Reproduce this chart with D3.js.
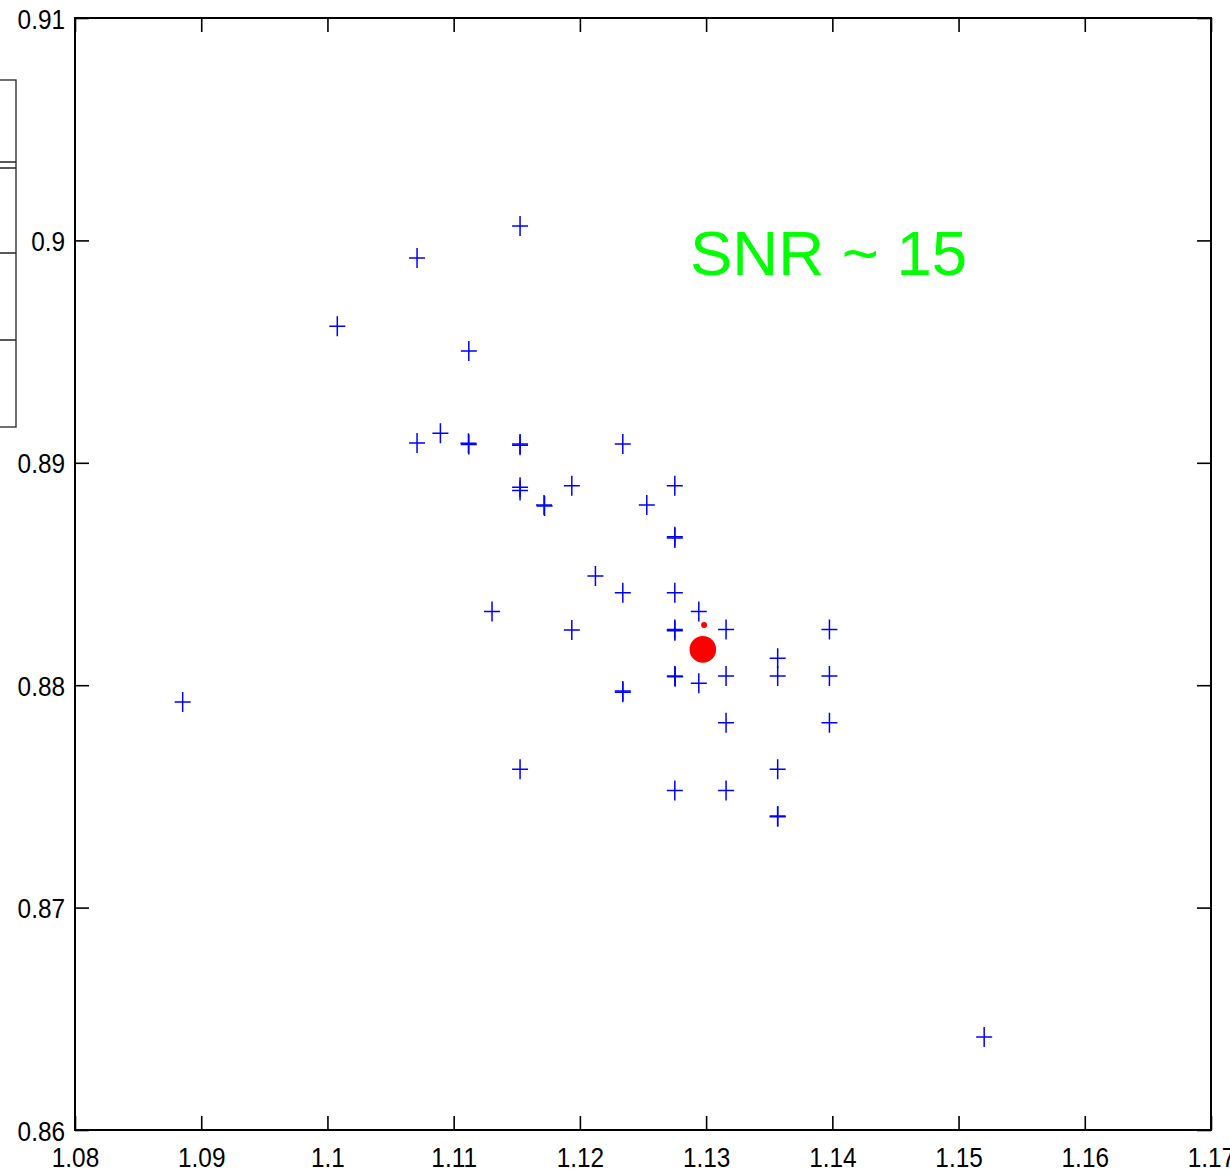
<!DOCTYPE html>
<html>
<head>
<meta charset="utf-8">
<script src="https://cdn.jsdelivr.net/npm/d3@7"></script>
<style>
  body { margin: 0; background: #fff; }
  svg { display: block; font-family: "Liberation Sans", Arial, sans-serif; }
</style>
</head>
<body>
<svg id="chart"></svg>
<script>
// tick values and labels
const xTicks = [1.08, 1.09, 1.10, 1.11, 1.12, 1.13, 1.14, 1.15, 1.16, 1.17]
const xTickLabels = ['1.08', '1.09', '1.1', '1.11', '1.12', '1.13', '1.14', '1.15', '1.16', '1.17']
const yTicks = [0.86, 0.87, 0.88, 0.89, 0.90, 0.91]
const yTickLabels = ['0.86', '0.87', '0.88', '0.89', '0.9', '0.91']

// blue "+" estimates (some nearly duplicated, which shows as bolder marks)
const estX = [
  1.08853, 1.10078, 1.10710, 1.10710, 1.10895, 1.11120, 1.11117, 1.11120,
  1.11526, 1.11526, 1.11526, 1.11526, 1.11526, 1.11716, 1.11720, 1.11936,
  1.11526, 1.11304, 1.11936, 1.12123, 1.12340, 1.12340, 1.12340, 1.12340,
  1.12530, 1.12752, 1.12752, 1.12752, 1.12752, 1.12752, 1.12752, 1.12752,
  1.12755, 1.12752, 1.12942, 1.12942, 1.13158, 1.13158, 1.13158, 1.13158,
  1.13567, 1.13567, 1.13567, 1.13567, 1.13567, 1.13977, 1.13977, 1.13977,
  1.15203
]
const estY = [
  0.87924, 0.89614, 0.89921, 0.89089, 0.89133, 0.89503, 0.89088, 0.89082,
  0.90065, 0.89085, 0.89079, 0.88890, 0.88875, 0.88810, 0.88806, 0.88897,
  0.87622, 0.88331, 0.88248, 0.88491, 0.89085, 0.88416, 0.87974, 0.87968,
  0.88810, 0.88897, 0.88668, 0.88662, 0.88416, 0.88250, 0.88245, 0.88041,
  0.88038, 0.87527, 0.88331, 0.88009, 0.88251, 0.88041, 0.87831, 0.87527,
  0.88121, 0.88041, 0.87622, 0.87412, 0.87408, 0.88251, 0.88041, 0.87831,
  0.86418
]

// red markers: mean (big) and true value (small)
const redX = [1.12974, 1.12984]
const redY = [0.88161, 0.88271]
const redR = [13.3, 3]

const label = 'SNR ~ 15'

const W = 1230, H = 1173
const mLeft = 75, mRight = 1211, mTop = 18, mBottom = 1130
const squeeze = 0.87

const svg = d3.select('#chart').attr('width', W).attr('height', H)
svg.append('rect').attr('width', W).attr('height', H).attr('fill', '#fff')

const xScale = d3.scaleLinear().domain([1.08, 1.17]).range([mLeft, mRight])
const yScale = d3.scaleLinear().domain([0.86, 0.91]).range([mBottom, mTop])

// clipped legend box at the far left
const lg = svg.append('g').attr('fill', 'none').attr('stroke', '#222').attr('stroke-width', 1.3)
lg.append('rect').attr('x', -20).attr('y', 80).attr('width', 36).attr('height', 347)
;[162, 168, 253, 340].forEach(y => {
  lg.append('line').attr('x1', -20).attr('x2', 16).attr('y1', y).attr('y2', y)
})

// axes, ticks pointing inward
const xAxis = d3.axisBottom(xScale).tickValues(xTicks)
  .tickFormat((d, i) => xTickLabels[i]).tickSizeInner(-14).tickSizeOuter(0).tickPadding(17)
const yAxis = d3.axisLeft(yScale).tickValues(yTicks)
  .tickFormat((d, i) => yTickLabels[i]).tickSizeInner(-14).tickSizeOuter(0).tickPadding(11)

const gx = svg.append('g').attr('transform', `translate(0, ${mBottom})`).call(xAxis)
const gy = svg.append('g').attr('transform', `translate(${mLeft}, 0)`).call(yAxis)
svg.append('g').attr('transform', `translate(0, ${mTop})`)
  .call(d3.axisTop(xScale).tickValues(xTicks).tickFormat('').tickSizeInner(-14).tickSizeOuter(0))
svg.append('g').attr('transform', `translate(${mRight}, 0)`)
  .call(d3.axisRight(yScale).tickValues(yTicks).tickFormat('').tickSizeInner(-14).tickSizeOuter(0))

svg.selectAll('.domain').remove()
svg.selectAll('.tick line').attr('stroke', '#000').attr('stroke-width', 1.6)

gx.selectAll('text')
  .attr('font-size', 28).attr('fill', '#000')
  .attr('transform', `scale(${squeeze},1)`)
gy.selectAll('text')
  .attr('font-size', 28).attr('fill', '#000')
  .attr('x', -10 / squeeze).attr('dy', '0.36em')
  .attr('transform', `scale(${squeeze},1)`)
svg.selectAll('.tick text').attr('font-family', '"Liberation Sans", Arial, sans-serif')

// frame
svg.append('rect')
  .attr('x', mLeft).attr('y', mTop)
  .attr('width', mRight - mLeft).attr('height', mBottom - mTop)
  .attr('fill', 'none').attr('stroke', '#000').attr('stroke-width', 2)

// blue + markers
const pts = estX.map((x, i) => [x, estY[i]])
svg.append('g').selectAll('path')
  .data(pts)
  .enter()
  .append('path')
  .attr('d', d => {
    const cx = xScale(d[0]), cy = yScale(d[1])
    return `M${cx - 8},${cy}H${cx + 8}M${cx},${cy - 10}V${cy + 10}`
  })
  .attr('stroke', '#0000ff')
  .attr('stroke-width', 1.5)
  .attr('fill', 'none')

// red dots
svg.append('g').selectAll('circle')
  .data(redX.map((x, i) => [x, redY[i], redR[i]]))
  .enter()
  .append('circle')
  .attr('cx', d => xScale(d[0]))
  .attr('cy', d => yScale(d[1]))
  .attr('r', d => d[2])
  .attr('fill', '#ff0000')

// annotation
svg.append('text')
  .attr('x', 690).attr('y', 275)
  .attr('font-size', 63.5)
  .attr('fill', '#00ff00')
  .text(label)
</script>
</body>
</html>
